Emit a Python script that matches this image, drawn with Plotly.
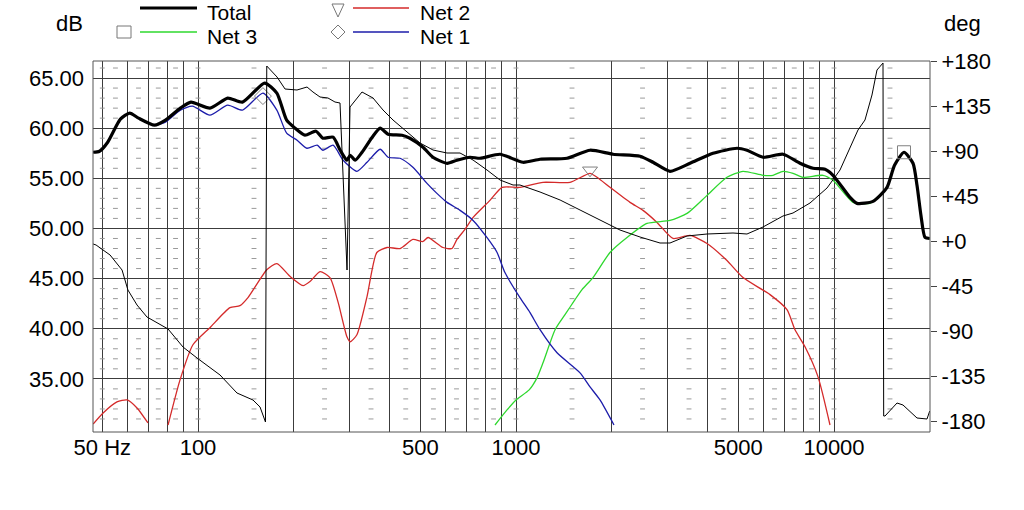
import numpy as np
import plotly.graph_objects as go

# Total SPL (dB)
total_hz = [46.8, 49, 52, 57, 61, 65, 73, 79, 88, 95, 109, 124, 138, 162, 177, 190, 202, 217,
            235, 247, 266, 280, 294, 301, 312, 328, 353, 374, 396, 438, 464, 510, 548, 607,
            652, 717, 771, 891, 1052, 1190, 1447, 1709, 2018, 2455, 2697, 3050, 3526, 4164,
            4955, 5326, 5981, 6912, 7818, 8590, 9370, 9929, 11228, 11811, 13260, 14680,
            15500, 16600, 17720, 18240, 18770, 19330, 20000]
total_db = [57.6, 57.7, 58.6, 60.9, 61.5, 61.0, 60.3, 60.8, 62.0, 62.6, 62.0, 63.0, 62.6, 64.5,
            63.5, 60.8, 60.0, 59.3, 59.7, 59.0, 59.1, 57.8, 56.8, 57.3, 56.8, 57.6, 59.1, 60.0,
            59.4, 59.3, 59.0, 58.1, 57.1, 56.5, 56.8, 57.1, 57.0, 57.4, 56.6, 56.9, 57.0, 57.8,
            57.4, 57.2, 56.6, 55.7, 56.5, 57.5, 58.0, 57.8, 57.1, 57.4, 56.5, 56.0, 55.9, 55.3,
            53.1, 52.5, 52.7, 54.1, 56.3, 57.6, 56.5, 54.3, 51.3, 49.1, 49.0]

# Net 1 (woofer)
net1_hz = [46.8, 49, 52, 57, 61, 65, 73, 79, 88, 96, 109, 124, 138, 160, 177, 190, 205, 220,
           237, 247, 266, 286, 316, 340, 374, 396, 432, 474, 525, 564, 607, 667, 733, 810,
           872, 923, 1029, 1107, 1190, 1346, 1590, 1709, 1837, 2033]
net1_db = [57.6, 57.7, 58.6, 60.9, 61.5, 61.0, 60.3, 60.6, 61.8, 62.2, 61.3, 62.3, 61.8, 63.5,
           61.8, 59.5, 58.8, 58.0, 58.3, 57.8, 58.3, 56.8, 55.7, 56.6, 57.9, 57.1, 57.0, 56.1,
           54.5, 53.5, 52.6, 51.8, 50.8, 49.1, 47.6, 45.6, 43.1, 41.6, 39.9, 37.6, 35.6, 34.2,
           32.9, 30.4]

# Net 2 (mid) - two pieces, gap where it drops below the bottom
net2_hz = [46.8, 50.3, 55.6, 59.8, 64.3, 69.6, None, 80.5, 87.8, 96.4, 109, 126, 135.5, 143.6,
           164.8, 177, 195, 214, 225, 242, 260, 276, 294, 301, 316, 340, 365, 393, 432, 474,
           510, 529, 589, 629, 652, 691, 733, 828, 904, 1029, 1216, 1479, 1709, 1798, 1975,
           2283, 2509, 2776, 3117, 3526, 3987, 4607, 5174, 6292, 7115, 7540, 8106, 8908, 9714]
net2_db = [30.5, 31.6, 32.7, 32.9, 32.1, 30.6, None, 30.4, 34.9, 38.4, 40.1, 42.1, 42.3, 43.1,
           45.9, 46.5, 45.2, 44.3, 44.7, 45.7, 45.1, 42.6, 39.2, 38.7, 39.4, 43.2, 47.6, 48.1,
           48.0, 48.9, 48.7, 49.1, 48.1, 48.0, 48.9, 49.9, 51.1, 52.8, 54.1, 54.1, 54.6, 54.6,
           55.5, 55.1, 54.1, 52.6, 51.8, 50.6, 49.0, 49.3, 48.5, 46.8, 45.1, 43.4, 41.9, 39.9,
           38.2, 35.2, 30.4]

# Net 3 (tweeter)
net3_hz = [859, 937, 1000, 1100, 1164, 1216, 1327, 1426, 1533, 1613, 1746, 1975, 2234, 2582,
           3050, 3450, 3987, 4607, 5174, 5981, 6431, 6912, 7432, 7989, 9235, 9929, 11474,
           12975, 13260, 14680, 15500, 16600, 17720, 18240, 18770, 19330, 20000]
net3_db = [30.4, 31.9, 32.9, 33.9, 35.1, 36.6, 39.9, 41.4, 42.9, 43.9, 45.1, 47.6, 49.1, 50.5,
           50.8, 51.5, 53.3, 55.1, 55.7, 55.3, 55.3, 55.7, 55.5, 55.1, 55.3, 54.8, 52.6, 52.5,
           52.7, 54.1, 56.3, 57.6, 56.5, 54.3, 51.3, 49.1, 49.0]

# phase of total (deg, right axis)
phase_hz = [46.8, 47.8, 52.9, 57.7, 60.2, 64.3, 69.1, 80.5, 89.7, 99.3, 117.3, 132.6, 148.9,
            156.7, 163.0, 164.5, 177.2, 187.8, 204.8, 220.2, 229.9, 241.9, 256.3, 269.6, 279.6,
            294.2, 300.6, 327.9, 355.1, 381.8, 410.4, 454.1, 499, 548.3, 606.7, 666.7, 732.5,
            810.5, 890.7, 978.6, 1029, 1190, 1376, 1590, 1837, 2123, 2455, 2837, 3050, 3450,
            3987, 4813, 5326, 5981, 6912, 7432, 8405, 9508, 10444, 11228, 11897, 12515, 13165,
            13650, 14260, 14330, 14470, 15780, 16480, 18240, 19610, 20000]
phase_deg = [-3, -4, -14, -29, -49, -64, -76, -88, -106, -117, -134, -152, -159, -166, -181,
             175, 164, 152, 151, 154, 149, 144, 143, 139, 138, -29, 134, 149, 143, 131, 121,
             109, 98, 91, 88, 88, 81, 71, 61, 56, 56, 49, 41, 31, 21, 11, 4, -2, -2, 5, 7, 8,
             7, 14, 25, 28, 38, 53, 71, 93, 111, 121, 146, 171, 178, -175, -175, -162, -164,
             -177, -178, -170]

# marker points
mark_net1 = (160, 63.2)
mark_net2 = (1709, 55.8)
mark_net3 = (16600, 57.6)

x_grid = [50, 60, 70, 80, 90, 100, 200, 300, 400, 500, 600, 700, 800, 900,
          1000, 2000, 3000, 4000, 5000, 6000, 7000, 8000, 9000, 10000]
x_labels = {50: "50 Hz", 100: "100", 500: "500", 1000: "1000", 5000: "5000", 10000: "10000"}
db_ticks = [35, 40, 45, 50, 55, 60, 65]
deg_ticks = [-180, -135, -90, -45, 0, 45, 90, 135, 180]

# little dash marks of the minor grid
dash_hz = [50, 55, 65, 75, 85, 100, 150, 250, 350, 450, 550, 650, 750, 850, 1000,
           1500, 2500, 3500, 4500, 5500, 6500, 7500, 8500, 10000, 15000]
dash_db = [d for d in range(30, 67) if d % 5]

for a, b in [(total_hz, total_db), (net1_hz, net1_db), (net2_hz, net2_db),
             (net3_hz, net3_db), (phase_hz, phase_deg)]:
    assert len(a) == len(b)

W, H = 1024, 510
ML, MR, MT, MB = 93, 94, 61, 78
FONT = "Liberation Sans, Arial, sans-serif"


def px(x):
    # screen pixel -> paper x
    return (x - ML) / (W - ML - MR)


def py(y):
    # screen pixel -> paper y
    return (H - MB - y) / (H - MT - MB)


fig = go.Figure()

gx, gy = np.meshgrid(dash_hz, dash_db)
fig.add_trace(go.Scatter(x=gx.ravel(), y=gy.ravel(), mode="markers",
                         marker=dict(symbol="line-ew", size=3.5, line=dict(width=1, color="#9a9a9a")),
                         hoverinfo="skip"))

fig.add_trace(go.Scatter(x=net2_hz, y=net2_db, mode="lines", name="Net 2",
                         line=dict(color="#d42a2a", width=1.3, shape="spline", smoothing=0.6)))
fig.add_trace(go.Scatter(x=net3_hz, y=net3_db, mode="lines", name="Net 3",
                         line=dict(color="#2ed82e", width=1.3, shape="spline", smoothing=0.6)))
fig.add_trace(go.Scatter(x=net1_hz, y=net1_db, mode="lines", name="Net 1",
                         line=dict(color="#1c1caa", width=1.3, shape="spline", smoothing=0.6)))
fig.add_trace(go.Scatter(x=total_hz, y=total_db, mode="lines", name="Total",
                         line=dict(color="black", width=3.2, shape="spline", smoothing=0.6)))

for (mx, my), sym in [(mark_net1, "diamond-open"), (mark_net2, "triangle-down-open"),
                      (mark_net3, "square-open")]:
    fig.add_trace(go.Scatter(x=[mx], y=[my], mode="markers",
                             marker=dict(symbol=sym, size=13, color="#808080",
                                         line=dict(width=1, color="#808080"))))

fig.add_trace(go.Scatter(x=phase_hz, y=phase_deg, mode="lines", yaxis="y2", name="Phase",
                         line=dict(color="black", width=1)))

fig.update_layout(
    width=W, height=H,
    margin=dict(l=ML, r=MR, t=MT, b=MB),
    paper_bgcolor="white", plot_bgcolor="white",
    showlegend=False,
    font=dict(family=FONT, size=22, color="black"),
    xaxis=dict(type="log", range=[np.log10(46.75), np.log10(20040)],
               tickvals=x_grid, ticktext=[x_labels.get(v, "") for v in x_grid],
               showgrid=True, gridcolor="#3c3c3c", gridwidth=1, ticks="",
               zeroline=False, showline=False, tickangle=0),
    yaxis=dict(range=[29.7, 66.7], tickvals=db_ticks,
               ticktext=[f"{v:.2f}" for v in db_ticks],
               showgrid=True, gridcolor="#3c3c3c", gridwidth=1, ticks="",
               zeroline=False, showline=False, ticklabelstandoff=8),
    yaxis2=dict(overlaying="y", side="right", range=[-191, 180], tickvals=deg_ticks,
                ticktext=[("+" if v >= 0 else "") + str(v) for v in deg_ticks],
                showgrid=False, zeroline=False, showline=False,
                ticks="outside", ticklen=6, tickcolor="#444"),
)

shapes = [dict(type="rect", xref="paper", yref="paper", x0=0, x1=1, y0=0, y1=1,
               line=dict(color="#555", width=1))]

# hand drawn legend
legend_rows = [
    (140, 197, 8, "black", 3.2, 205, 12, "Total"),
    (140, 197, 32, "#2ed82e", 1.3, 205, 36, "Net 3"),
    (353, 409, 8, "#d42a2a", 1.3, 418, 12, "Net 2"),
    (353, 409, 32, "#1c1caa", 1.3, 418, 36, "Net 1"),
]
ann = []
for x0, x1, ly, col, w, tx, ty, txt in legend_rows:
    shapes.append(dict(type="line", xref="paper", yref="paper",
                       x0=px(x0), x1=px(x1), y0=py(ly), y1=py(ly),
                       line=dict(color=col, width=w)))
    ann.append(dict(x=px(tx), y=py(ty), xref="paper", yref="paper", text=txt,
                    showarrow=False, xanchor="left", yanchor="middle", font=dict(size=21)))

gray = dict(color="#777", width=1)
shapes.append(dict(type="rect", xref="paper", yref="paper", xsizemode="pixel", ysizemode="pixel",
                   xanchor=px(124), yanchor=py(32), x0=-7, x1=7, y0=-6, y1=6, line=gray))
shapes.append(dict(type="path", xref="paper", yref="paper", xsizemode="pixel", ysizemode="pixel",
                   xanchor=px(338), yanchor=py(10), path="M -6,6 L 6,6 L 0,-7 Z", line=gray))
shapes.append(dict(type="path", xref="paper", yref="paper", xsizemode="pixel", ysizemode="pixel",
                   xanchor=px(338), yanchor=py(32), path="M 0,-7 L 7,0 L 0,7 L -7,0 Z", line=gray))

ann.append(dict(x=px(69), y=py(23), xref="paper", yref="paper", text="dB", showarrow=False,
                xanchor="center", yanchor="middle", font=dict(size=22)))
ann.append(dict(x=px(962), y=py(23), xref="paper", yref="paper", text="deg", showarrow=False,
                xanchor="center", yanchor="middle", font=dict(size=22)))

fig.update_layout(shapes=shapes, annotations=ann)

# drop the default 8px page margin so the figure sits in the window corner
fig.write_html("out.html", config={"displayModeBar": False},
               post_script="document.body.style.margin = '0px';")
